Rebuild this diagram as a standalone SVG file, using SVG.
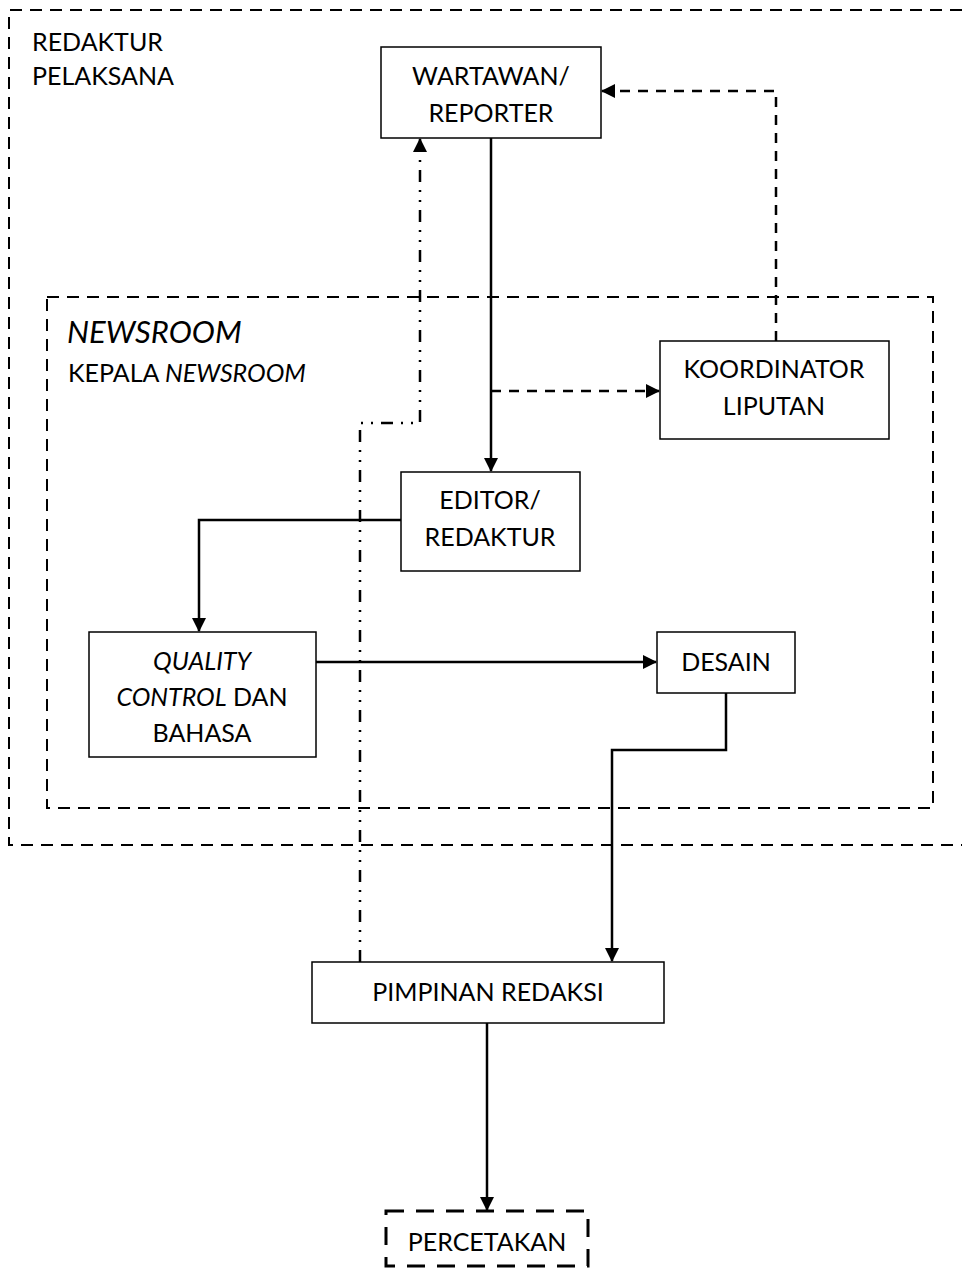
<svg xmlns="http://www.w3.org/2000/svg" width="962" height="1268" viewBox="0 0 962 1268">
<style>
text{font-family:Lato,"Open Sans","Liberation Sans",sans-serif;font-size:25px;fill:#000}
.c{text-anchor:middle}
.big{font-size:31px;font-style:italic}
.it{font-style:italic}
.box{fill:#fff;stroke:#000;stroke-width:1.5}
.grp{fill:none;stroke:#000;stroke-width:2;stroke-dasharray:12,8}
.ln{fill:none;stroke:#000;stroke-width:2.5}
.dash{stroke-dasharray:10,8}
.dd{stroke-dasharray:12,8,2,8,2,8}
</style>
<defs>
<marker id="ah" markerWidth="14" markerHeight="14" refX="13" refY="7" orient="auto" markerUnits="userSpaceOnUse">
<path d="M0,0 L14,7 L0,14 Z" fill="#000"/>
</marker>
</defs>
<rect width="962" height="1268" fill="#fff"/>
<g id="redaktur-pelaksana">
<path class="grp" d="M962,10 H9 V845 H962"/>
<text x="32" y="51">REDAKTUR</text>
<text x="32" y="85">PELAKSANA</text>
</g>
<g id="newsroom">
<rect class="grp" x="47" y="297" width="886" height="511"/>
<text class="big" x="67" y="343">NEWSROOM</text>
<text x="68" y="382">KEPALA <tspan class="it">NEWSROOM</tspan></text>
</g>
<g id="connectors">
<path class="ln" d="M491,138 V471" marker-end="url(#ah)"/>
<path class="ln dash" d="M491,391 H659" marker-end="url(#ah)"/>
<path class="ln dash" d="M776,341 V91 H602" marker-end="url(#ah)"/>
<path class="ln" d="M401,520 H199 V631" marker-end="url(#ah)"/>
<path class="ln" d="M316,662 H656" marker-end="url(#ah)"/>
<path class="ln" d="M726,693 V750 H612 V961" marker-end="url(#ah)"/>
<path class="ln dd" d="M360,962 V423 H420 V139" marker-end="url(#ah)"/>
<path class="ln" d="M487,1023 V1210" marker-end="url(#ah)"/>
</g>
<g id="wartawan">
<rect class="box" x="381" y="47" width="220" height="91"/>
<text class="c" x="491" y="85">WARTAWAN/</text>
<text class="c" x="491" y="122">REPORTER</text>
</g>
<g id="koordinator">
<rect class="box" x="660" y="341" width="229" height="98"/>
<text class="c" x="774" y="378">KOORDINATOR</text>
<text class="c" x="774" y="415">LIPUTAN</text>
</g>
<g id="editor">
<rect class="box" x="401" y="472" width="179" height="99"/>
<text class="c" x="490" y="509">EDITOR/</text>
<text class="c" x="490" y="546">REDAKTUR</text>
</g>
<g id="quality">
<rect class="box" x="89" y="632" width="227" height="125"/>
<text class="c it" x="202" y="670">QUALITY</text>
<text class="c" x="202" y="706"><tspan class="it">CONTROL</tspan> DAN</text>
<text class="c" x="202" y="742">BAHASA</text>
</g>
<g id="desain">
<rect class="box" x="657" y="632" width="138" height="61"/>
<text class="c" x="726" y="671">DESAIN</text>
</g>
<g id="pimpinan">
<rect class="box" x="312" y="962" width="352" height="61"/>
<text class="c" x="488" y="1001">PIMPINAN REDAKSI</text>
</g>
<g id="percetakan">
<rect x="386" y="1211" width="202" height="55" fill="#fff" stroke="#000" stroke-width="3" stroke-dasharray="18,12"/>
<text class="c" x="487" y="1251">PERCETAKAN</text>
</g>
</svg>
